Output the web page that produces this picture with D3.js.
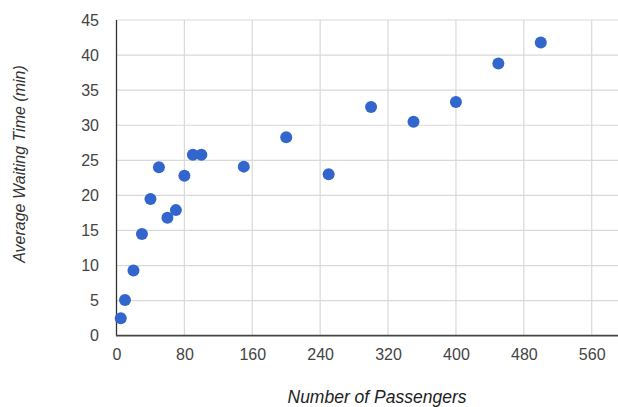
<!DOCTYPE html>
<html><head><meta charset="utf-8">
<script src="https://cdn.jsdelivr.net/npm/d3@7"></script>
<style>body{margin:0;background:#fff;}svg{display:block;}</style>
</head><body>
<svg id="c" width="618" height="407"></svg>
<script>
const passengers = [5, 10, 20, 30, 40, 50, 60, 70, 80, 90, 100, 150, 200, 250, 300, 350, 400, 450, 500];
const waitTimes  = [2.5, 5.1, 9.3, 14.5, 19.5, 24.0, 16.8, 17.9, 22.8, 25.8, 25.8, 24.1, 28.3, 23.0, 32.6, 30.5, 33.3, 38.8, 41.8];
const xTicks = [0, 80, 160, 240, 320, 400, 480, 560];
const yTicks = [0, 5, 10, 15, 20, 25, 30, 35, 40, 45];
const xTitle = "Number of Passengers";
const yTitle = "Average Waiting Time (min)";

const svg = d3.select("#c");
const x = d3.scaleLinear().domain([0, 640]).range([116.5, 659.6]);
const y = d3.scaleLinear().domain([0, 45]).range([335.7, 20]);
const font = "'Liberation Sans', Arial, sans-serif";

// gridlines
svg.append("g").selectAll("line").data(yTicks.filter(d => d > 0)).join("line")
  .attr("x1", x(0)).attr("x2", 618).attr("y1", d => y(d)).attr("y2", d => y(d))
  .attr("stroke", "#d9d9d9").attr("stroke-width", 1.2);
svg.append("g").selectAll("line").data(xTicks.filter(d => d > 0)).join("line")
  .attr("x1", d => x(d)).attr("x2", d => x(d)).attr("y1", y(45)).attr("y2", y(0))
  .attr("stroke", "#d9d9d9").attr("stroke-width", 1.2);

// axes
const xAxis = d3.axisBottom(x).tickValues(xTicks).tickSize(0).tickPadding(12.5);
const gx = svg.append("g").attr("transform", `translate(0,${y(0)})`).call(xAxis);
gx.select(".domain").remove();
gx.selectAll("text").attr("font-family", font).attr("font-size", 16).attr("fill", "#444");

const yAxis = d3.axisLeft(y).tickValues(yTicks).tickSize(0).tickPadding(17.5);
const gy = svg.append("g").attr("transform", `translate(${x(0)},0)`).call(yAxis);
gy.select(".domain").remove();
gy.selectAll("text").attr("font-family", font).attr("font-size", 16).attr("fill", "#444");

svg.append("line").attr("x1", x(0)).attr("x2", x(0)).attr("y1", y(45)).attr("y2", y(0))
  .attr("stroke", "#333").attr("stroke-width", 1.3);
svg.append("line").attr("x1", x(0) - 0.5).attr("x2", 618).attr("y1", y(0)).attr("y2", y(0))
  .attr("stroke", "#444").attr("stroke-width", 1.8);

// points
svg.append("g").selectAll("circle").data(passengers.map((p, i) => [p, waitTimes[i]])).join("circle")
  .attr("cx", d => x(d[0])).attr("cy", d => y(d[1])).attr("r", 6)
  .attr("fill", "#3366cc");

// titles
svg.append("text").attr("x", 377).attr("y", 402.5).attr("text-anchor", "middle")
  .attr("font-family", font).attr("font-size", 17.5).attr("font-style", "italic").attr("fill", "#222")
  .text(xTitle);
svg.append("text").attr("transform", "translate(25,164) rotate(-90)").attr("text-anchor", "middle")
  .attr("font-family", font).attr("font-size", 16).attr("font-style", "italic").attr("fill", "#333")
  .text(yTitle);
</script>
</body></html>
